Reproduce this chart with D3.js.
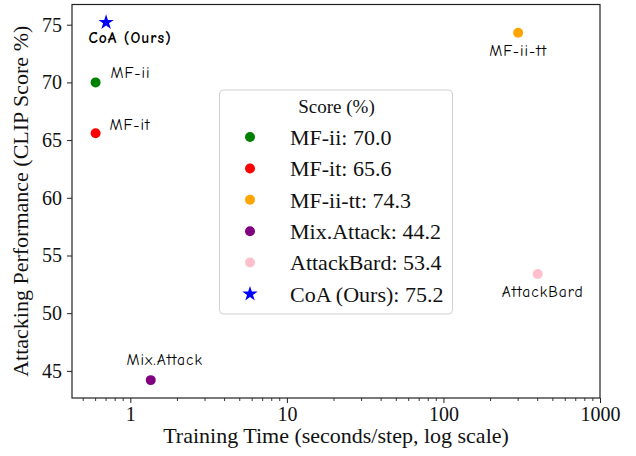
<!DOCTYPE html>
<html>
<head>
<meta charset="utf-8">
<script src="https://cdn.jsdelivr.net/npm/d3@7"></script>
<style>
  html, body { margin: 0; padding: 0; background: #fff; }
  svg { display: block; }
</style>
</head>
<body>
<svg id="chart" width="636" height="456"></svg>
<script>
// ---- data ----
const methods = ["MF-ii", "MF-it", "MF-ii-tt", "Mix.Attack", "AttackBard", "CoA (Ours)"];
const trainingTime = [0.6, 0.6, 300, 1.35, 400, 0.7];
const clipScore = [70.0, 65.6, 74.3, 44.2, 53.4, 75.2];
const xTickValues = [1, 10, 100, 1000];
const xTickLabels = ["1", "10", "100", "1000"];
const yTickValues = [45, 50, 55, 60, 65, 70, 75];

// ---- styles ----
const colors = ["green", "red", "orange", "purple", "pink", "blue"];
const markers = ["circle", "circle", "circle", "circle", "circle", "star"];
// label placement relative to point: [dx, dy, anchor]
const labelPlace = [
  [15, -10, "start"],
  [14, -9, "start"],
  [0, 18, "middle"],
  [14, -21, "middle"],
  [5, 18, "middle"],
  [24, 15, "middle"]
];

const svg = d3.select("#chart");
const margin = { left: 72, top: 4.5, right: 36, bottom: 58 };
const W = 636, H = 456;
const x = d3.scaleLog().domain([0.424, 1000]).range([margin.left, W - margin.right]);
const y = d3.scaleLinear().domain([42.65, 76.75]).range([H - margin.bottom, margin.top]);

const serif = "'Liberation Serif', 'Times New Roman', serif";
const comic = "'Comic Sans MS', 'Comic Neue', 'DejaVu Sans', sans-serif";

// x axis
const xAxis = d3.axisBottom(x)
  .tickValues(xTickValues)
  .tickFormat((d, i) => xTickLabels[i])
  .tickSize(5).tickPadding(4);
const gx = svg.append("g").attr("transform", `translate(0,${H - margin.bottom})`).call(xAxis);
// minor ticks
const minor = [];
for (let dec = 0.1; dec < 1000; dec *= 10) {
  for (let k = 2; k <= 9; k++) {
    const v = +(k * dec).toPrecision(3);
    if (v >= x.domain()[0] && v <= x.domain()[1]) minor.push(v);
  }
}
gx.selectAll(".minor").data(minor).enter().append("line")
  .attr("class", "minor")
  .attr("x1", d => x(d)).attr("x2", d => x(d))
  .attr("y1", 0).attr("y2", 3)
  .attr("stroke", "#222").attr("stroke-width", 0.9);

const yAxis = d3.axisLeft(y).tickValues(yTickValues).tickSize(5).tickPadding(5);
const gy = svg.append("g").attr("transform", `translate(${margin.left},0)`).call(yAxis);

[gx, gy].forEach(g => {
  g.select(".domain").remove();
  g.selectAll(".tick line").attr("stroke", "#222").attr("stroke-width", 1);
  g.selectAll(".tick text").attr("font-family", serif).attr("font-size", 20).attr("fill", "#111");
});

// frame
svg.append("rect")
  .attr("x", margin.left).attr("y", margin.top)
  .attr("width", W - margin.right - margin.left)
  .attr("height", H - margin.bottom - margin.top)
  .attr("fill", "none").attr("stroke", "#222").attr("stroke-width", 1.2);

// axis labels
svg.append("text")
  .attr("x", (margin.left + W - margin.right) / 2).attr("y", 443)
  .attr("text-anchor", "middle")
  .attr("font-family", serif).attr("font-size", 22).attr("fill", "#111")
  .text("Training Time (seconds/step, log scale)");
svg.append("text")
  .attr("transform", `translate(28,${(margin.top + H - margin.bottom) / 2}) rotate(-90)`)
  .attr("text-anchor", "middle")
  .attr("font-family", serif).attr("font-size", 22).attr("fill", "#111")
  .text("Attacking Performance (CLIP Score %)");

const circleSym = d3.symbol().type(d3.symbolCircle).size(78);
const starSym = d3.symbol().type(d3.symbolStar).size(74);

// points
const pts = svg.append("g");
methods.forEach((m, i) => {
  pts.append("path")
    .attr("d", markers[i] === "star" ? starSym() : circleSym())
    .attr("transform", `translate(${x(trainingTime[i])},${y(clipScore[i])})`)
    .attr("fill", colors[i]);
  const [dx, dy, anchor] = labelPlace[i];
  pts.append("text")
    .attr("x", x(trainingTime[i]) + dx)
    .attr("y", y(clipScore[i]) + dy)
    .attr("dy", "0.35em")
    .attr("text-anchor", anchor)
    .attr("font-family", comic)
    .attr("font-size", 15.5)
    .attr("letter-spacing", 1)
    .attr("font-weight", m === "CoA (Ours)" ? "bold" : "normal")
    .attr("fill", "#000")
    .text(m);
});

// legend
const lg = svg.append("g");
lg.append("rect")
  .attr("x", 219.5).attr("y", 90).attr("width", 233).attr("height", 224)
  .attr("rx", 4).attr("ry", 4)
  .attr("fill", "white").attr("fill-opacity", 0.85)
  .attr("stroke", "#d0d0d0").attr("stroke-width", 1);
lg.append("text")
  .attr("x", 336.5).attr("y", 106.5).attr("dy", "0.35em")
  .attr("text-anchor", "middle")
  .attr("font-family", serif).attr("font-size", 19).attr("fill", "#111")
  .text("Score (%)");
methods.forEach((m, i) => {
  const cy = 137 + i * 31.4;
  lg.append("path")
    .attr("d", markers[i] === "star" ? starSym() : circleSym())
    .attr("transform", `translate(250,${cy})`)
    .attr("fill", colors[i]);
  lg.append("text")
    .attr("x", 290).attr("y", cy).attr("dy", "0.35em")
    .attr("font-family", serif).attr("font-size", 22).attr("fill", "#111")
    .text(`${m}: ${clipScore[i].toFixed(1)}`);
});
</script>
</body>
</html>
